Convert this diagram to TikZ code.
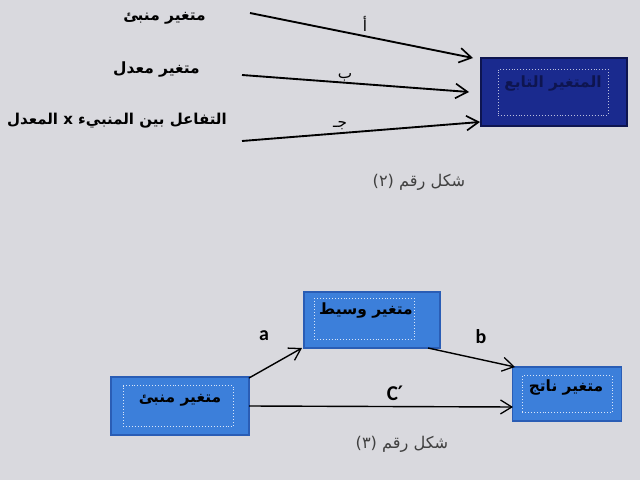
\documentclass[tikz,border=0pt]{standalone}
\usepackage{fontspec}
\usetikzlibrary{arrows.meta}
\TeXXeTstate=1
\newfontfamily\arabicfont[Script=Arabic]{DejaVu Sans}
\newfontfamily\dejavu{DejaVu Sans}
\newfontfamily\carlito{Carlito}
\definecolor{bgc}{HTML}{D9D9DE}
\definecolor{navyfill}{HTML}{1A2A8E}
\definecolor{navyedge}{HTML}{0E1550}
\definecolor{midfill}{HTML}{3C7FDA}
\definecolor{midedge}{HTML}{2A5DB5}
\tikzset{
  lbl/.style={font=\arabicfont\bfseries\fontsize{13.2}{15}\selectfont, inner sep=0pt},
  captxt/.style={font=\arabicfont\fontsize{13.8}{16}\selectfont, inner sep=0pt, text=black!75},
  arr/.style={line width=1.6pt, -{Straight Barb[length=3.6mm,width=4.4mm,line width=1.4pt]}},
  arrb/.style={line width=1.2pt, -{Straight Barb[length=3.4mm,width=4.2mm,line width=1.1pt]}},
  darkbox/.style={draw=navyedge, line width=1.5pt, fill=navyfill, minimum width=4.38cm, minimum height=2.04cm, inner sep=0pt},
  bluebox/.style={draw=midedge, line width=1.5pt, fill=midfill, inner sep=0pt},
  innerdot/.style={draw=white!80!midfill, dotted, line width=0.5pt},
  latin/.style={font=\carlito\bfseries\fontsize{17}{19}\selectfont, inner sep=0pt}
}
\begin{document}
\begin{tikzpicture}[x=0.03cm,y=-0.03cm]
\useasboundingbox (0,0) rectangle (640,480);
\fill[bgc] (0,0) rectangle (640,480);

% ---- top figure ----
\node[lbl, anchor=east] (p1) at (206,18) {\beginR متغير منبئ\endR};
\node[lbl, anchor=east] (p2) at (200,70) {\beginR متغير معدل\endR};
\node[lbl, font=\arabicfont\bfseries\fontsize{12.8}{15}\selectfont, anchor=east] (p3) at (227,121) {\beginR التفاعل بين المنبيء \beginL x\endL{} المعدل\endR};

\node[darkbox] (dep) at (554,92) {};
\node[draw=white!70!navyfill, dotted, line width=0.5pt, minimum width=3.3cm, minimum height=1.38cm] (depin) at (553,92) {};
\node[lbl, text=navyedge] (deptext) at (553,84) {\beginR المتغير التابع\endR};

\coordinate (s1) at (250,13);
\coordinate (s2) at (242,75);
\coordinate (s3) at (242,141);
\coordinate (e1) at (473,58);
\coordinate (e2) at (469,92);
\coordinate (e3) at (480,122);
\draw[arr] (s1) -- (e1);
\draw[arr] (s2) -- (e2);
\draw[arr] (s3) -- (e3);
\node[lbl, font=\arabicfont\fontsize{13}{15}\selectfont] (la) at (365,24) {\beginR أ\endR};
\node[lbl, font=\arabicfont\fontsize{13}{15}\selectfont] (lb) at (345,77) {\beginR ب\endR};
\node[lbl, font=\arabicfont\fontsize{13}{15}\selectfont] (lc) at (340,126) {\beginR جـ\endR};

\node[captxt] (cap2) at (419,182) {\beginR شكل رقم (٢)\endR};

% ---- bottom figure ----
\node[bluebox, minimum width=4.08cm, minimum height=1.68cm] (med) at (372,320) {};
\node[innerdot, minimum width=3.0cm, minimum height=1.23cm] (medin) at (364,319) {};
\node[lbl] (medt) at (366,311) {\beginR متغير وسيط\endR};

\node[bluebox, minimum width=4.14cm, minimum height=1.74cm] (pred) at (180,406) {};
\node[innerdot, minimum width=3.3cm, minimum height=1.23cm] (predin) at (178,406) {};
\node[lbl] (predt) at (180,400) {\beginR متغير منبئ\endR};

\node[bluebox, minimum width=3.27cm, minimum height=1.62cm] (out) at (567,394) {};
\node[innerdot, minimum width=2.7cm, minimum height=1.1cm] (outin) at (567,394) {};
\node[lbl] (outt) at (566,388) {\beginR متغير ناتج\endR};

\coordinate (a0) at (249,378);
\coordinate (a1) at (302,348);
\coordinate (b0) at (428,348);
\coordinate (b1) at (515,367);
\coordinate (c0) at (249,406);
\coordinate (c1) at (513,407);
\draw[arrb] (a0) -- (a1);
\draw[arrb] (b0) -- (b1);
\draw[arrb] (c0) -- (c1);
\node[latin] (la2) at (264,336) {a};
\node[latin] (lb2) at (481,337) {b};
\node[latin, font=\carlito\bfseries\fontsize{18}{20}\selectfont] (lc2) at (395,393) {C{\dejavu\fontsize{17}{19}\selectfont\char"2032}};

\node[captxt] (cap3) at (402,444) {\beginR شكل رقم (٣)\endR};
\end{tikzpicture}
\end{document}
